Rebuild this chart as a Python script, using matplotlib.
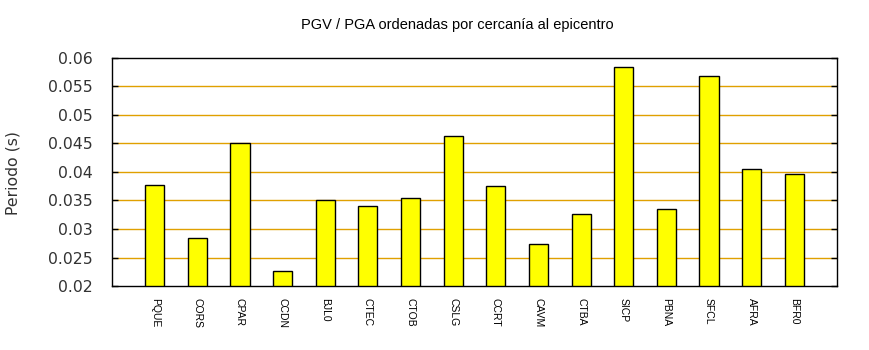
import numpy as np
import matplotlib.pyplot as plt

estaciones = ["PQUE", "CORS", "CPAR", "CCDN", "BJL0", "CTEC", "CTOB", "CSLG",
              "CCRT", "CAVM", "CTBA", "SICP", "PBNA", "SFCL", "AFRA", "BFR0"]
periodo = [0.0377, 0.0284, 0.0450, 0.0226, 0.0350, 0.0340, 0.0354, 0.0463,
           0.0375, 0.0273, 0.0326, 0.0584, 0.0335, 0.0568, 0.0405, 0.0396]
yticks = [0.02, 0.025, 0.03, 0.035, 0.04, 0.045, 0.05, 0.055, 0.06]
yticklabels = ["0.02", "0.025", "0.03", "0.035", "0.04", "0.045", "0.05", "0.055", "0.06"]

fig = plt.figure(figsize=(8.7, 3.5), dpi=100)
ax = fig.add_axes([112 / 870, 64 / 350, 725 / 870, 228 / 350])

x = np.arange(len(estaciones))
# grid only on inner ticks, gnuplot-style orange
for v in yticks[1:-1]:
    ax.axhline(v, color="#e0a000", lw=1.0, zorder=1)
ax.bar(x, periodo, width=0.45, bottom=0, color="#ffff00", edgecolor="black",
       linewidth=1.0, zorder=3)

ax.set_xlim(-1, len(estaciones))
ax.set_ylim(0.02, 0.06)
ax.set_yticks(yticks)
ax.set_yticklabels(yticklabels, fontsize=11.3, family="DejaVu Sans")
ax.tick_params(axis="y", direction="in", length=4, width=1, right=True, pad=14,
               colors="black", labelcolor="#333333")
ax.set_xticks(x)
ax.set_xticklabels(estaciones, rotation=270, fontsize=7.5, family="Liberation Sans")
ax.tick_params(axis="x", length=0, pad=9)
for s in ax.spines.values():
    s.set_linewidth(1.0)
    s.set_zorder(5)

fig.text(457 / 870, 1 - 25 / 350, "PGV / PGA ordenadas por cercanía al epicentro",
         ha="center", va="center", fontsize=10.5, family="Liberation Sans")
fig.text(13 / 870, 1 - 173 / 350, "Periodo (s)", rotation=90, ha="center",
         va="center", fontsize=11.3, family="DejaVu Sans", color="#333333")

fig.savefig("out.png", dpi=100)
